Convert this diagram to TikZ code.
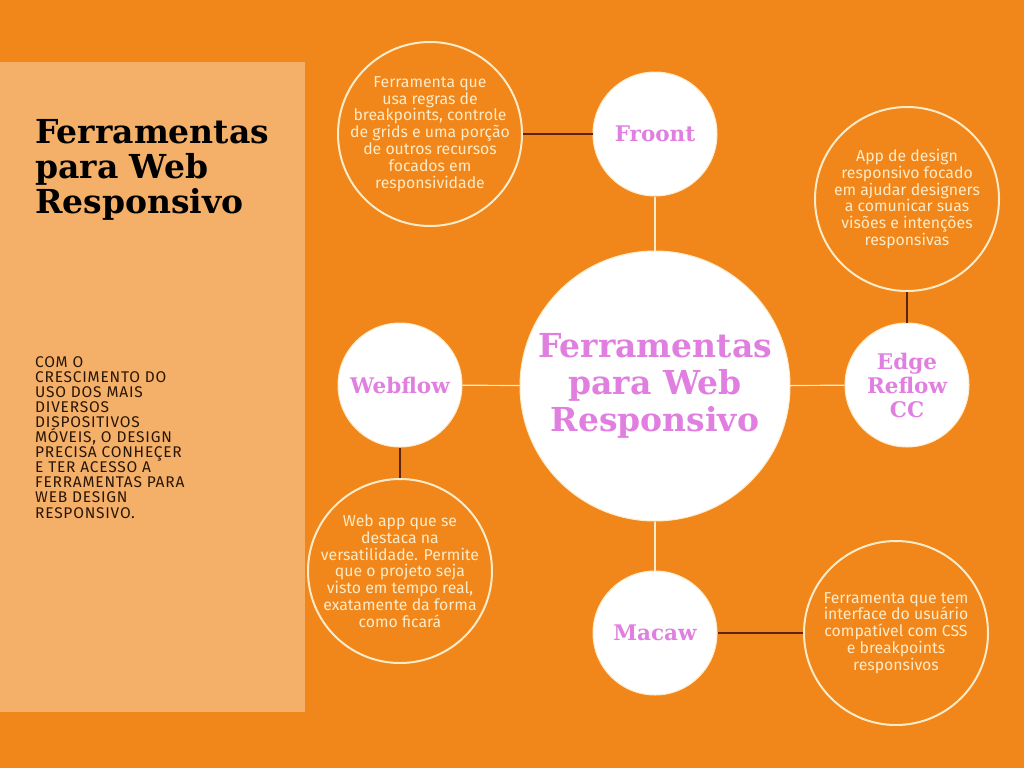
\documentclass[tikz,border=0pt]{standalone}
\usepackage{fontspec}
\setmainfont{DejaVu Serif}
\newfontfamily\descfont{Fira Sans}
\newfontfamily\introfont[LetterSpace=5]{Fira Sans}
\definecolor{bgorange}{HTML}{F1861A}
\definecolor{panelorange}{HTML}{F4B068}
\definecolor{cream}{HTML}{FCEBC8}
\definecolor{pinktxt}{HTML}{E07FE0}
\definecolor{darkline}{HTML}{5A250C}
\definecolor{introtxt}{HTML}{2A1606}

\begin{document}
\begin{tikzpicture}[x=1pt, y=-1pt,
		hub/.style={circle, fill=white, draw=cream, line width=1pt, minimum size=270pt, inner sep=0pt, align=center, text=pinktxt, font=\fontsize{33}{37}\selectfont\bfseries},
		tool/.style={circle, fill=white, draw=cream, line width=1pt, minimum size=124pt, inner sep=0pt, align=center, text=pinktxt, font=\fontsize{21.5}{24}\selectfont\bfseries},
		info/.style={circle, draw=cream, line width=2pt, minimum size=184pt, inner sep=-30pt, align=center, text=cream, font=\descfont\fontsize{15.8}{16.8}\selectfont},
		spoke/.style={cream, line width=1.2pt},
		link/.style={darkline, line width=1.2pt},
	]
	\fill[bgorange] (0,0) rectangle (1024,768);
	\fill[panelorange] (0,62) rectangle (305,712);

	\node[anchor=north west, align=left, inner sep=0pt, font=\fontsize{33}{35}\selectfont\bfseries] (title) at (35,119) {Ferramentas\\para Web\\Responsivo};
	\node[anchor=north west, align=left, inner sep=0pt, text=introtxt, font=\introfont\fontsize{15.5}{15.1}\selectfont] (intro) at (35,356)
		{COM O\\CRESCIMENTO DO\\USO DOS MAIS\\DIVERSOS\\DISPOSITIVOS\\MÓVEIS, O DESIGN\\PRECISA CONHEÇER\\E TER ACESSO A\\FERRAMENTAS PARA\\WEB DESIGN\\RESPONSIVO.};

	\node[hub]  (hub)     at (655,386) {Ferramentas\\para Web\\Responsivo};
	\node[tool] (froont)  at (655,134) {Froont};
	\node[tool] (webflow) at (400,385) {Webflow};
	\node[tool] (reflow)  at (907,385) {Edge\\Reflow\\CC};
	\node[tool] (macaw)   at (655,633) {Macaw};

	\node[info] (froontinfo)  at (430,134) {Ferramenta que\\usa regras de\\breakpoints, controle\\de grids e uma porção\\de outros recursos\\focados em\\responsividade};
	\node[info] (reflowinfo)  at (907,199) {App de design\\responsivo focado\\em ajudar designers\\a comunicar suas\\visões e intenções\\responsivas};
	\node[info] (webflowinfo) at (400,571) {Web app que se\\destaca na\\versatilidade. Permite\\que o projeto seja\\visto em tempo real,\\exatamente da forma\\como ficará};
	\node[info] (macawinfo)   at (896,633) {Ferramenta que tem\\interface do usuário\\compatível com CSS\\e breakpoints\\responsivos};

	\draw[spoke] (froont)  -- (hub);
	\draw[spoke] (webflow) -- (hub);
	\draw[spoke] (reflow)  -- (hub);
	\draw[spoke] (macaw)   -- (hub);

	\draw[link] (froontinfo)  -- (froont);
	\draw[link] (reflowinfo)  -- (reflow);
	\draw[link] (webflowinfo) -- (webflow);
	\draw[link] (macawinfo)   -- (macaw);
\end{tikzpicture}
\end{document}
